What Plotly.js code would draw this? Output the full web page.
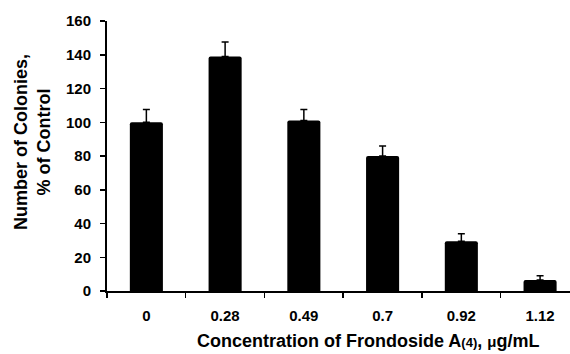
<!DOCTYPE html>
<html>
<head>
<meta charset="utf-8">
<script src="https://cdn.plot.ly/plotly-3.0.1.min.js"></script>
<style>html,body{margin:0;padding:0;background:#fff;}#chart{width:570px;height:354px;}</style>
</head>
<body>
<div id="chart"></div>
<script>
const categories = ["0", "0.28", "0.49", "0.7", "0.92", "1.12"];
const colonies = [100, 139, 101, 80, 29.5, 6.5];
const errorPlus = [7.5, 8.5, 6.5, 6, 4.5, 2.5];
const yTicks = [0, 20, 40, 60, 80, 100, 120, 140, 160];

const fam = "Liberation Sans, Arial, sans-serif";
const W = 570, H = 354, L = 107, R = 0, T = 21, B = 63;
const pw = W - L - R, ph = H - T - B;

Plotly.newPlot("chart", [{
  type: "bar",
  x: categories,
  y: colonies,
  width: 0.42,
  marker: {color: "#000", cornerradius: 2},
  error_y: {type: "data", symmetric: false, array: errorPlus, arrayminus: colonies.map(() => 0),
            color: "#000", thickness: 1.5, width: 3.5, visible: true},
  hoverinfo: "none"
}], {
  width: W, height: H,
  margin: {l: L, r: R, t: T, b: B},
  paper_bgcolor: "#fff", plot_bgcolor: "#fff",
  showlegend: false,
  xaxis: {
    type: "category",
    range: [-0.5, 5.38],
    tickson: "boundaries",
    ticks: "outside", ticklen: 5, tickwidth: 1.5, tickcolor: "#000",
    ticklabelstandoff: 10,
    showline: true, linecolor: "#000", linewidth: 2,
    showgrid: false, zeroline: false,
    tickfont: {family: fam, size: 15, color: "#000", weight: "bold"},
    fixedrange: true
  },
  yaxis: {
    range: [0, 160],
    tickvals: yTicks,
    ticktext: yTicks.map(String),
    ticks: "outside", ticklen: 5, tickwidth: 1.5, tickcolor: "#000",
    ticklabelstandoff: 6,
    showline: true, linecolor: "#000", linewidth: 2,
    showgrid: false, zeroline: false,
    tickfont: {family: fam, size: 15, color: "#000", weight: "bold"},
    fixedrange: true
  },
  annotations: [{
    xref: "paper", yref: "paper",
    x: (368 - L) / pw, y: (H - B - 341) / ph,
    xanchor: "center", yanchor: "middle",
    showarrow: false,
    text: "Concentration of Frondoside A<span style='font-size:13px'>(4)</span>, <span style='font-size:15px'>μ</span>g/mL",
    font: {family: fam, size: 18, color: "#000", weight: "bold"}
  }, {
    xref: "paper", yref: "paper",
    x: (32 - L) / pw, y: (H - B - 142) / ph,
    xanchor: "center", yanchor: "middle",
    textangle: -90,
    showarrow: false,
    text: "Number of Colonies,<br>% of Control",
    font: {family: fam, size: 18, color: "#000", weight: "bold"}
  }]
}, {displayModeBar: false, staticPlot: true});
</script>
</body>
</html>
